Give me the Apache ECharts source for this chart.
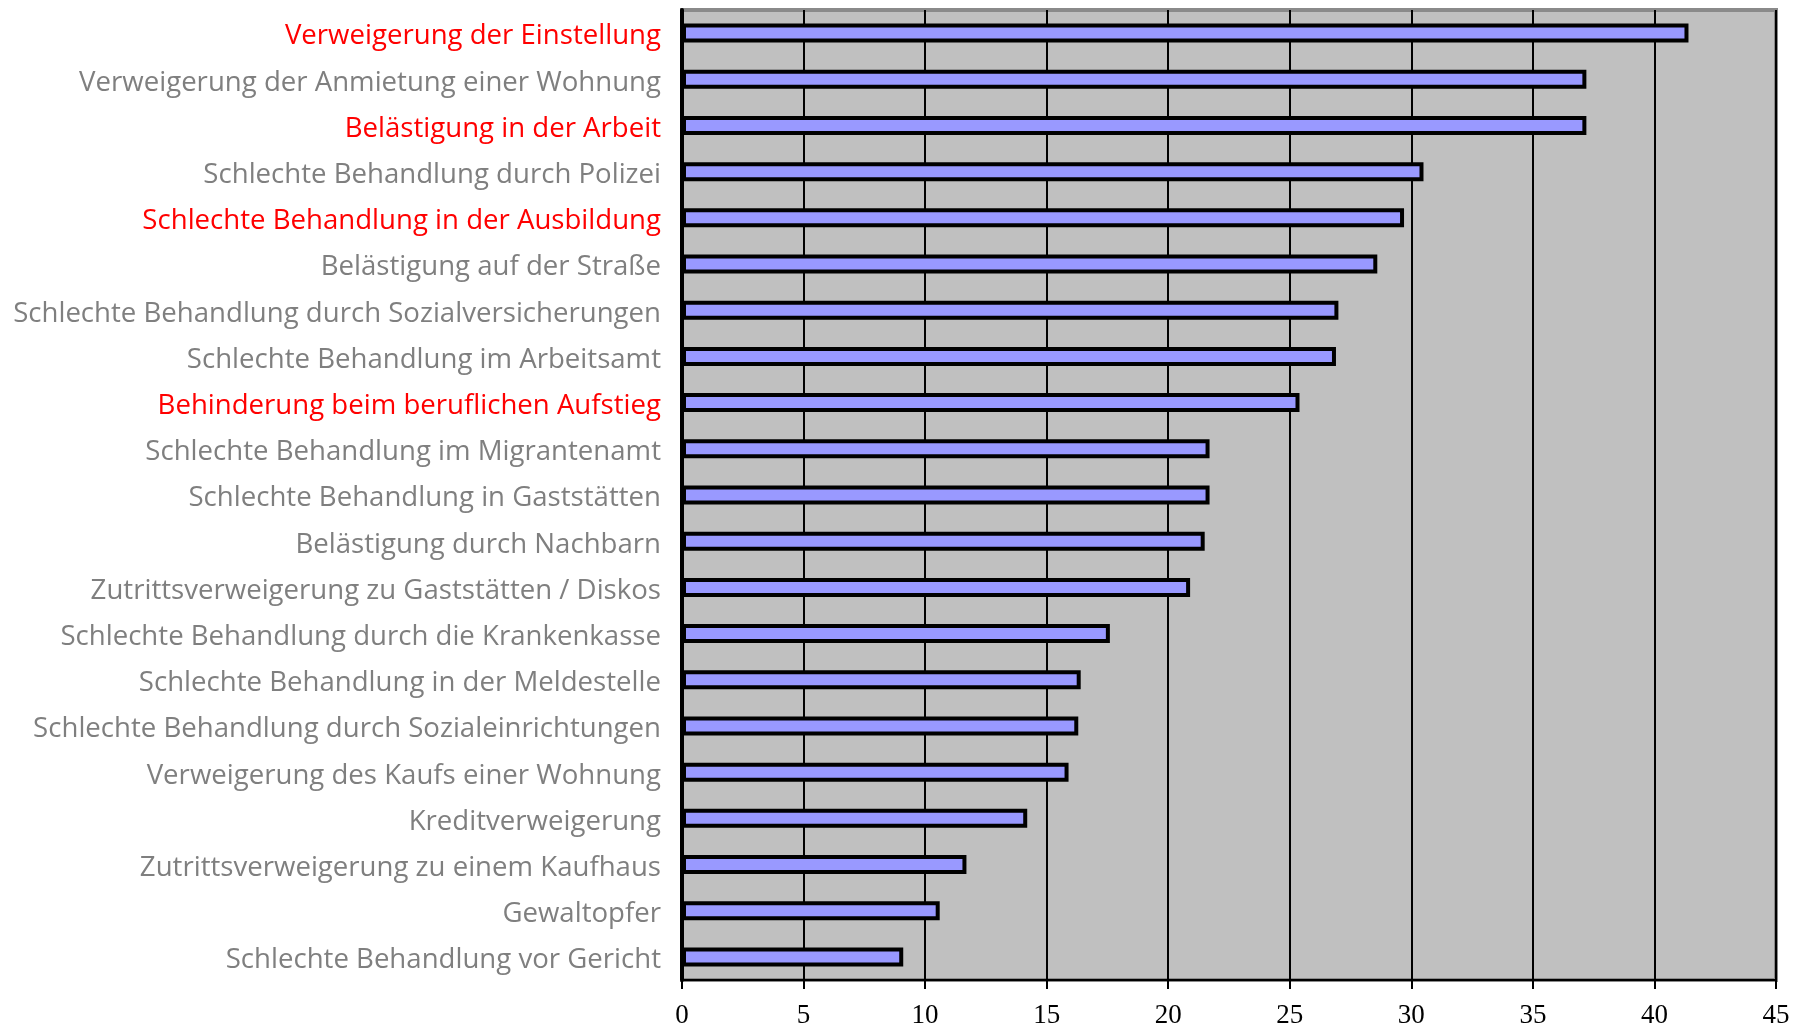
<!DOCTYPE html>
<html>
<head>
<meta charset="utf-8">
<script src="https://cdn.jsdelivr.net/npm/echarts@6/dist/echarts.min.js"></script>
<style>
html, body { margin: 0; padding: 0; background: #fff; }
#chart { width: 1807px; height: 1029px; }
</style>
</head>
<body>
<div id="chart"></div>
<script>
var categories = [
	'Verweigerung der Einstellung',
	'Verweigerung der Anmietung einer Wohnung',
	'Belästigung in der Arbeit',
	'Schlechte Behandlung durch Polizei',
	'Schlechte Behandlung in der Ausbildung',
	'Belästigung auf der Straße',
	'Schlechte Behandlung durch Sozialversicherungen',
	'Schlechte Behandlung im Arbeitsamt',
	'Behinderung beim beruflichen Aufstieg',
	'Schlechte Behandlung im Migrantenamt',
	'Schlechte Behandlung in Gaststätten',
	'Belästigung durch Nachbarn',
	'Zutrittsverweigerung zu Gaststätten / Diskos',
	'Schlechte Behandlung durch die Krankenkasse',
	'Schlechte Behandlung in der Meldestelle',
	'Schlechte Behandlung durch Sozialeinrichtungen',
	'Verweigerung des Kaufs einer Wohnung',
	'Kreditverweigerung',
	'Zutrittsverweigerung zu einem Kaufhaus',
	'Gewaltopfer',
	'Schlechte Behandlung vor Gericht'
];
var values = [41.4, 37.2, 37.2, 30.5, 29.7, 28.6, 27.0, 26.9, 25.4, 21.7, 21.7, 21.5, 20.9, 17.6, 16.4, 16.3, 15.9, 14.2, 11.7, 10.6, 9.1];
// Kategorien, die rot hervorgehoben sind
var highlighted = [
	'Verweigerung der Einstellung',
	'Belästigung in der Arbeit',
	'Schlechte Behandlung in der Ausbildung',
	'Behinderung beim beruflichen Aufstieg'
];
var xTicks = [0, 5, 10, 15, 20, 25, 30, 35, 40, 45];

var myChart = echarts.init(document.getElementById('chart'));

var option = {
	backgroundColor: '#fff',
	animation: false,
	grid: {
		left: 682,
		right: 31,
		top: 10,
		bottom: 49,
		show: true,
		backgroundColor: '#c0c0c0',
		borderColor: '#8a8a8a',
		borderWidth: 4
	},
	xAxis: {
		type: 'value',
		min: xTicks[0],
		max: xTicks[xTicks.length - 1],
		interval: 5,
		axisLine: {
			show: true,
			lineStyle: { color: '#000', width: 2 }
		},
		axisTick: {
			show: true,
			inside: false,
			length: 9,
			lineStyle: { color: '#000', width: 2 }
		},
		splitLine: {
			show: true,
			lineStyle: { color: '#000', width: 2 }
		},
		axisLabel: {
			color: '#000',
			fontFamily: 'Liberation Serif',
			fontSize: 27,
			margin: 22
		}
	},
	yAxis: {
		type: 'category',
		inverse: true,
		data: categories,
		axisLine: {
			show: true,
			lineStyle: { color: '#000', width: 4 }
		},
		axisTick: { show: false },
		splitLine: { show: false },
		axisLabel: {
			margin: 21,
			formatter: function(v) {
				return highlighted.indexOf(v) >= 0 ? '{r|' + v + '}' : '{g|' + v + '}';
			},
			rich: {
				r: { color: '#ff0000', fontFamily: 'Open Sans', fontSize: 27.6, padding: [7, 0, 0, 0] },
				g: { color: '#7f7f7f', fontFamily: 'Open Sans', fontSize: 27.6, padding: [7, 0, 0, 0] }
			}
		}
	},
	series: [{
		type: 'bar',
		data: values,
		barWidth: 19,
		itemStyle: {
			color: '#9999ff',
			borderColor: '#000',
			borderWidth: 4
		}
	}]
};
myChart.setOption(option);
</script>
</body>
</html>
